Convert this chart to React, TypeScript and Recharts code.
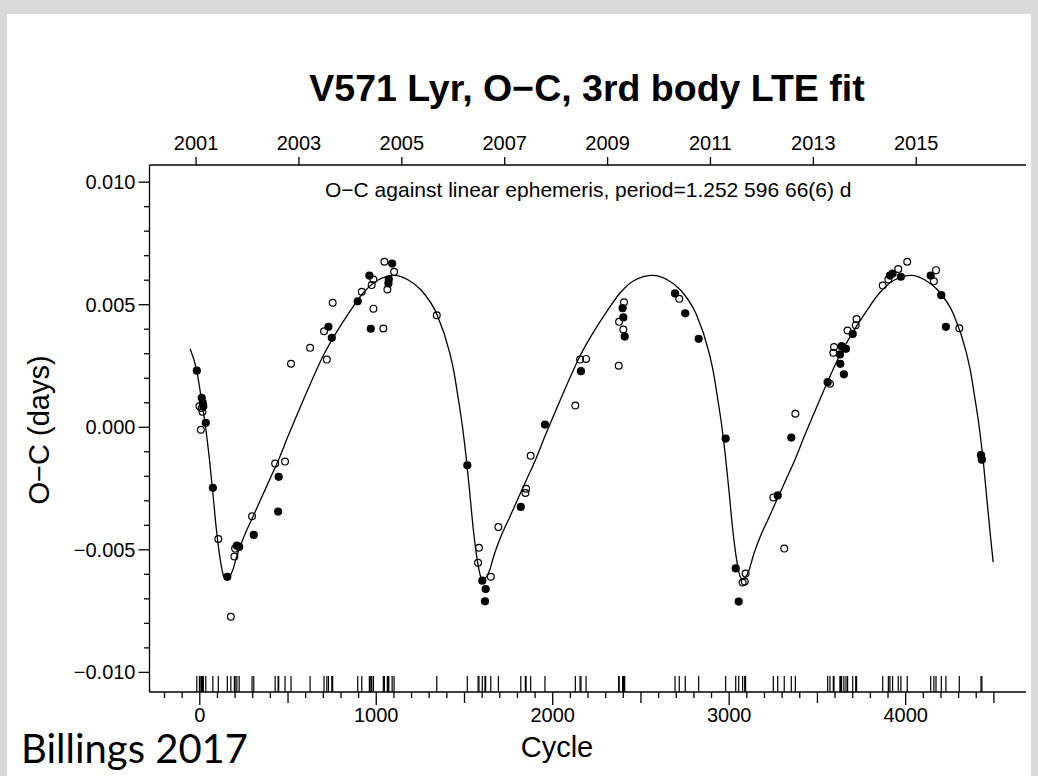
import React from 'react';
import { ComposedChart, Line, Scatter, XAxis, YAxis } from 'recharts';

// timings of minimum: [cycle, O-C (days)]
const FILLED_MINIMA: [number, number][] = [
  [-17, 0.00231], [11, 0.0012], [17, 0.001], [20, 0.00086], [34, 0.00018],
  [74, -0.00247], [156, -0.0061], [210, -0.00483], [223, -0.00488], [306, -0.00439],
  [447, -0.00202], [444, -0.00344], [729, 0.0041], [748, 0.00365], [895, 0.00514],
  [961, 0.00619], [969, 0.00402], [1090, 0.00668], [1071, 0.00603], [1069, 0.00587],
  [1516, -0.00155], [1601, -0.00626], [1620, -0.0066], [1616, -0.0071], [1819, -0.00325],
  [1956, 0.00011], [2160, 0.00229], [2396, 0.00486], [2400, 0.00448], [2408, 0.0037],
  [2693, 0.00546], [2751, 0.00465], [2827, 0.00361], [2980, -0.00046], [3037, -0.00576],
  [3054, -0.00711], [3275, -0.00278], [3352, -0.00042], [3558, 0.00184], [3630, 0.00259],
  [3650, 0.00216], [3637, 0.00331], [3662, 0.0032], [3628, 0.00297], [3700, 0.00381],
  [3911, 0.00619], [3926, 0.00627], [3973, 0.00614], [4142, 0.00619], [4202, 0.00539],
  [4228, 0.0041], [4427, -0.00114], [4432, -0.00132],
];

const OPEN_MINIMA: [number, number][] = [
  [-2, 0.00086], [11, 0.00079], [15, 0.00063], [6, -0.0001], [105, -0.00456],
  [176, -0.00773], [196, -0.00527], [200, -0.00495], [296, -0.00363], [427, -0.00148],
  [483, -0.0014], [517, 0.00259], [625, 0.00324], [720, 0.00276], [704, 0.00392],
  [753, 0.00508], [918, 0.00553], [984, 0.00603], [974, 0.0058], [984, 0.00484],
  [1040, 0.00403], [1046, 0.00675], [1101, 0.00634], [1063, 0.00562], [1343, 0.00457],
  [1582, -0.00492], [1577, -0.00553], [1649, -0.0061], [1692, -0.00407], [1849, -0.00251],
  [1845, -0.00268], [1875, -0.00116], [2128, 0.00089], [2155, 0.00276], [2189, 0.00279],
  [2374, 0.00251], [2376, 0.0043], [2404, 0.0051], [2400, 0.00399], [2717, 0.00524],
  [3093, -0.00597], [3076, -0.00633], [3088, -0.00629], [3250, -0.00286], [3312, -0.00495],
  [3375, 0.00055], [3571, 0.00178], [3594, 0.00327], [3590, 0.00304], [3671, 0.00395],
  [3717, 0.00416], [3722, 0.00442], [3870, 0.00578], [3902, 0.00603], [3958, 0.00646],
  [4009, 0.00675], [4172, 0.00641], [4160, 0.00596], [4304, 0.00404],
];

// 3rd body LTE fit
const FIT_CURVE: [number, number][] = [
  [-55, 0.0032], [-17, 0.0023], [8, 0.0012], [33, 0.0], [53, -0.0012],
  [73, -0.0026], [93, -0.0041], [108, -0.005], [123, -0.0057], [136, -0.0061],
  [148, -0.0062], [168, -0.0061], [188, -0.0058], [208, -0.0053], [248, -0.0045],
  [298, -0.0037], [348, -0.0029], [398, -0.0021], [448, -0.0013], [498, -0.0004],
  [568, 0.0008], [628, 0.0018], [698, 0.0029], [768, 0.0038], [848, 0.0047],
  [928, 0.0055], [1008, 0.006], [1104, 0.0062], [1184, 0.006], [1254, 0.0056],
  [1344, 0.0046], [1414, 0.0031], [1439, 0.0023], [1464, 0.0012], [1489, 0.0],
  [1509, -0.0012], [1529, -0.0026], [1549, -0.0041], [1564, -0.005], [1579, -0.0057],
  [1592, -0.0061], [1604, -0.0062], [1624, -0.0061], [1644, -0.0058], [1664, -0.0053],
  [1704, -0.0045], [1754, -0.0037], [1804, -0.0029], [1854, -0.0021], [1904, -0.0013],
  [1954, -0.0004], [2024, 0.0008], [2084, 0.0018], [2154, 0.0029], [2224, 0.0038],
  [2304, 0.0047], [2384, 0.0055], [2464, 0.006], [2566, 0.0062], [2654, 0.006],
  [2724, 0.0056], [2814, 0.0046], [2884, 0.0031], [2909, 0.0023], [2934, 0.0012],
  [2959, 0.0], [2979, -0.0012], [2999, -0.0026], [3019, -0.0041], [3034, -0.005],
  [3049, -0.0057], [3062, -0.0061], [3074, -0.0062], [3094, -0.0061], [3114, -0.0058],
  [3134, -0.0053], [3174, -0.0045], [3224, -0.0037], [3274, -0.0029], [3324, -0.0021],
  [3374, -0.0013], [3424, -0.0004], [3494, 0.0008], [3554, 0.0018], [3624, 0.0029],
  [3694, 0.0038], [3774, 0.0047], [3854, 0.0055], [3934, 0.006], [4032, 0.0062],
  [4112, 0.006], [4182, 0.0056], [4272, 0.0046], [4342, 0.0031], [4367, 0.0023],
  [4392, 0.0012], [4417, 0.0], [4440, -0.0014], [4460, -0.0029], [4480, -0.0044],
  [4496, -0.0055],
];

const YEAR_LABELS = [2001, 2003, 2005, 2007, 2009, 2011, 2013, 2015];
const YEAR_CYCLES = [-21, 562, 1145, 1728, 2311, 2894, 3477, 4060];

const X_DOMAIN: [number, number] = [-285, 4682];
const Y_DOMAIN: [number, number] = [-0.0108, 0.0107];

const CYCLE_TICKS = Array.from({ length: 48 }, (_, i) => -200 + i * 100);
const OC_TICKS = Array.from({ length: 21 }, (_, i) => (i - 10) / 1000);

const FONT = "'Liberation Sans', Arial, Helvetica, sans-serif";
const INK = '#000';

const toPoints = (rows: [number, number][]) => rows.map(([cycle, oc]) => ({ cycle, oc }));

function fmtOC(v: number) {
  if (Math.abs(v) < 1e-9) return '0.000';
  return (v < 0 ? '\u2212' : '') + Math.abs(v).toFixed(3);
}

function CycleTick({ x, y, payload }: any) {
  const v = payload.value;
  const len = v % 1000 === 0 ? 13 : v % 500 === 0 ? 11 : 6;
  return (
    <g>
      <line x1={x} y1={y} x2={x} y2={y + len} stroke={INK} strokeWidth={1.3} />
      {v % 1000 === 0 && (
        <text x={x} y={y + 30} textAnchor="middle" fontSize={20} fontFamily={FONT} fill={INK}>
          {v}
        </text>
      )}
    </g>
  );
}

function YearTick({ x, y, payload }: any) {
  const idx = YEAR_CYCLES.indexOf(payload.value);
  return (
    <g>
      <line x1={x} y1={y} x2={x} y2={y - 8} stroke={INK} strokeWidth={1.3} />
      <text x={x} y={y - 15.5} textAnchor="middle" fontSize={20} fontFamily={FONT} fill={INK}>
        {YEAR_LABELS[idx]}
      </text>
    </g>
  );
}

function OCTick({ x, y, payload }: any) {
  const v = payload.value;
  const major = Math.round(v * 1000) % 5 === 0;
  return (
    <g>
      <line x1={x} y1={y} x2={x - (major ? 11 : 5.5)} y2={y} stroke={INK} strokeWidth={1.3} />
      {major && (
        <text x={x - 14} y={y + 7} textAnchor="end" fontSize={20} fontFamily={FONT} fill={INK}>
          {fmtOC(v)}
        </text>
      )}
    </g>
  );
}

const FilledDot = ({ cx, cy }: any) => <circle cx={cx} cy={cy} r={4.1} fill={INK} />;
const OpenDot = ({ cx, cy }: any) => (
  <circle cx={cx} cy={cy} r={3.4} fill="none" stroke={INK} strokeWidth={1.2} />
);
const RugMark = ({ cx, cy }: any) => (
  <line x1={cx} y1={cy} x2={cx} y2={cy - 16} stroke={INK} strokeWidth={1.2} />
);

export default function App() {
  const filled = toPoints(FILLED_MINIMA);
  const open = toPoints(OPEN_MINIMA);
  const curve = toPoints(FIT_CURVE);
  // rug along the bottom: one mark per timing
  const rug = [...FILLED_MINIMA, ...OPEN_MINIMA].map(([cycle]) => ({ cycle, oc: Y_DOMAIN[0] }));

  return (
    <div style={{ position: 'absolute', left: 0, top: 0, width: 1038, height: 776, background: '#d9d9d9' }}>
      <div style={{ position: 'absolute', left: 7, top: 14, width: 1024, height: 762, background: '#fff' }} />
      <div style={{ position: 'absolute', left: 0, top: 0 }}>
        <ComposedChart width={1038} height={776} margin={{ top: 135, right: 12, bottom: 44, left: 89.5 }}>
          <XAxis
            xAxisId="b"
            dataKey="cycle"
            type="number"
            domain={X_DOMAIN}
            allowDataOverflow
            ticks={CYCLE_TICKS}
            interval={0}
            height={40}
            tickSize={0}
            tickMargin={0}
            tickLine={false}
            axisLine={{ stroke: INK, strokeWidth: 1.3 }}
            tick={<CycleTick />}
          />
          <XAxis
            xAxisId="t"
            dataKey="cycle"
            type="number"
            orientation="top"
            domain={X_DOMAIN}
            allowDataOverflow
            ticks={YEAR_CYCLES}
            interval={0}
            height={30}
            tickSize={0}
            tickMargin={0}
            tickLine={false}
            axisLine={{ stroke: INK, strokeWidth: 1.3 }}
            tick={<YearTick />}
          />
          <YAxis
            yAxisId="l"
            dataKey="oc"
            type="number"
            domain={Y_DOMAIN}
            allowDataOverflow
            ticks={OC_TICKS}
            interval={0}
            width={60}
            tickSize={0}
            tickMargin={0}
            tickLine={false}
            axisLine={{ stroke: INK, strokeWidth: 1.3 }}
            tick={<OCTick />}
          />
          <YAxis
            yAxisId="r"
            dataKey="oc"
            type="number"
            orientation="right"
            domain={Y_DOMAIN}
            allowDataOverflow
            width={0}
            tick={false}
            tickLine={false}
            axisLine={{ stroke: INK, strokeWidth: 1.3 }}
          />
          <Scatter xAxisId="t" yAxisId="r" data={rug} shape={<RugMark />} isAnimationActive={false} />
          <Line
            xAxisId="b"
            yAxisId="l"
            data={curve}
            dataKey="oc"
            type="monotone"
            dot={false}
            activeDot={false}
            stroke={INK}
            strokeWidth={1.3}
            isAnimationActive={false}
          />
          <Scatter xAxisId="b" yAxisId="l" data={filled} shape={<FilledDot />} isAnimationActive={false} />
          <Scatter xAxisId="b" yAxisId="l" data={open} shape={<OpenDot />} isAnimationActive={false} />
        </ComposedChart>
      </div>
      <svg width={1038} height={776} style={{ position: 'absolute', left: 0, top: 0, pointerEvents: 'none' }}>
        <text x={587} y={101} textAnchor="middle" fontSize={37.5} fontWeight="bold" fontFamily={FONT} fill={INK}>
          V571 Lyr, O{'\u2212'}C, 3rd body LTE fit
        </text>
        <text x={325} y={197} fontSize={21} fontFamily={FONT} fill={INK}>
          O{'\u2212'}C against linear ephemeris, period=1.252 596 66(6) d
        </text>
        <text x={557} y={757} textAnchor="middle" fontSize={29} fontFamily={FONT} fill={INK}>
          Cycle
        </text>
        <text transform="translate(49,430) rotate(-90)" textAnchor="middle" fontSize={29} fontFamily={FONT} fill={INK}>
          O{'\u2212'}C (days)
        </text>
        <text x={21} y={763} fontSize={40} fontFamily="Lato, 'Open Sans', sans-serif" fill={INK}>
          Billings 2017
        </text>
      </svg>
    </div>
  );
}
